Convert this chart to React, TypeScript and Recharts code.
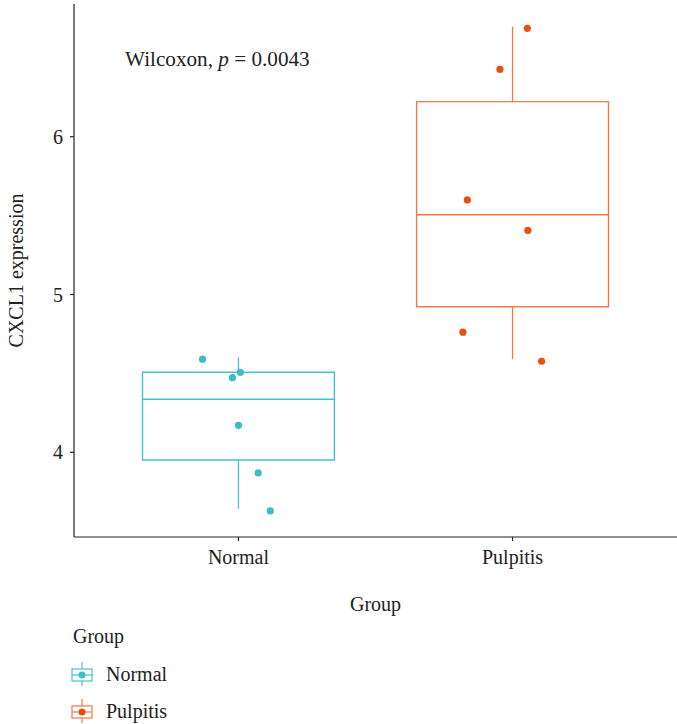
import React from "react";
import {
  ComposedChart,
  Scatter,
  XAxis,
  YAxis,
  ReferenceArea,
  ReferenceLine,
  Customized,
} from "recharts";

const groups = ["Normal", "Pulpitis"];
const groupPos = [1, 2];
const colorsPoint = ["#3BBDC8", "#E8500F"];
const colorsBox = ["#47C2CC", "#F07A4A"];

// box stats per group: [min, q1, median, q3, max]
const normalStats = [3.642, 3.951, 4.336, 4.507, 4.602];
const pulpitisStats = [4.59, 4.922, 5.505, 6.222, 6.698];

// jittered points
const normalOffsets = [-0.131, -0.022, 0.007, 0.0, 0.072, 0.116];
const normalValues = [4.59, 4.473, 4.507, 4.171, 3.869, 3.628];
const pulpitisOffsets = [0.054, -0.046, -0.165, 0.056, -0.181, 0.106];
const pulpitisValues = [6.687, 6.427, 5.599, 5.406, 4.761, 4.577];

const yTicks = [4, 5, 6];
const yDomain = [3.463, 6.841];
const xDomain = [0.4, 2.6];
const boxHalf = 0.35;

const FONT = "'Liberation Serif', 'DejaVu Serif', serif";
const FS = 20;

const normalPts = normalValues.map((v, i) => ({ x: groupPos[0] + normalOffsets[i], y: v }));
const pulpitisPts = pulpitisValues.map((v, i) => ({ x: groupPos[1] + pulpitisOffsets[i], y: v }));
const allStats = [normalStats, pulpitisStats];

const LegendIcon = ({ stroke, fill }: { stroke: string; fill: string }) => (
  <svg width={22} height={24} style={{ display: "block" }}>
    <line x1={11} y1={0} x2={11} y2={24} stroke={stroke} strokeWidth={1.2} />
    <rect x={1} y={7} width={20} height={12} fill="#fff" stroke={stroke} strokeWidth={1.2} />
    <line x1={1} y1={13} x2={21} y2={13} stroke={stroke} strokeWidth={1.2} />
    <circle cx={11} cy={13} r={3.5} fill={fill} />
  </svg>
);

export default function App() {
  return (
    <div style={{ position: "absolute", left: 0, top: 0, width: 677, height: 724, background: "#fff", fontFamily: FONT }}>
      <ComposedChart
        width={677}
        height={724}
        margin={{ top: 4, right: 0, left: 0, bottom: 147 }}
      >
        <XAxis
          type="number"
          dataKey="x"
          domain={xDomain}
          ticks={groupPos}
          allowDataOverflow
          tickFormatter={(v: number) => groups[groupPos.indexOf(v)] ?? ""}
          height={40}
          tickSize={4}
          tickMargin={9}
          stroke="#222"
          strokeWidth={1.2}
          tick={{ fill: "#222", fontSize: FS, fontFamily: FONT }}
          label={{ value: "Group", position: "bottom", offset: 20, fill: "#222", fontSize: FS, fontFamily: FONT }}
        />
        <YAxis
          type="number"
          dataKey="y"
          domain={yDomain}
          ticks={yTicks}
          allowDataOverflow
          width={74}
          tickSize={4}
          tickMargin={7}
          stroke="#222"
          strokeWidth={1.2}
          tick={{ fill: "#222", fontSize: FS, fontFamily: FONT }}
          label={{
            content: (props: any) => {
              const vb = props.viewBox || {};
              const cx = (vb.x ?? 0) + 16;
              const cy = (vb.y ?? 0) + (vb.height ?? 0) / 2;
              return (
                <text
                  x={cx}
                  y={cy}
                  transform={`rotate(-90, ${cx}, ${cy})`}
                  textAnchor="middle"
                  dominantBaseline="central"
                  fill="#222"
                  fontSize={FS}
                  fontFamily={FONT}
                >
                  CXCL1 expression
                </text>
              );
            },
          }}
        />
        {allStats.map((s, i) => (
          <ReferenceLine
            key={`wu${i}`}
            segment={[{ x: groupPos[i], y: s[3] }, { x: groupPos[i], y: s[4] }]}
            stroke={colorsBox[i]}
            strokeWidth={1.3}
            ifOverflow="visible"
          />
        ))}
        {allStats.map((s, i) => (
          <ReferenceLine
            key={`wl${i}`}
            segment={[{ x: groupPos[i], y: s[0] }, { x: groupPos[i], y: s[1] }]}
            stroke={colorsBox[i]}
            strokeWidth={1.3}
            ifOverflow="visible"
          />
        ))}
        {allStats.map((s, i) => (
          <ReferenceArea
            key={`box${i}`}
            x1={groupPos[i] - boxHalf}
            x2={groupPos[i] + boxHalf}
            y1={s[1]}
            y2={s[3]}
            fill="none"
            fillOpacity={0}
            stroke={colorsBox[i]}
            strokeWidth={1.4}
            ifOverflow="visible"
          />
        ))}
        {allStats.map((s, i) => (
          <ReferenceLine
            key={`med${i}`}
            segment={[{ x: groupPos[i] - boxHalf, y: s[2] }, { x: groupPos[i] + boxHalf, y: s[2] }]}
            stroke={colorsBox[i]}
            strokeWidth={1.4}
            ifOverflow="visible"
          />
        ))}
        <Scatter
          name="Normal"
          data={normalPts}
          fill={colorsPoint[0]}
          isAnimationActive={false}
          shape={(p: any) => <circle cx={p.cx} cy={p.cy} r={3.6} fill={colorsPoint[0]} />}
        />
        <Scatter
          name="Pulpitis"
          data={pulpitisPts}
          fill={colorsPoint[1]}
          isAnimationActive={false}
          shape={(p: any) => <circle cx={p.cx} cy={p.cy} r={3.6} fill={colorsPoint[1]} />}
        />
        <Customized
          component={() => (
            <text x={125} y={66} fill="#222" fontSize={21.2} fontFamily={FONT}>
              Wilcoxon,{" "}
              <tspan fontStyle="italic">p</tspan> = 0.0043
            </text>
          )}
        />
      </ComposedChart>
      <div style={{ position: "absolute", left: 73, top: 626, color: "#222", fontSize: FS, lineHeight: "20px" }}>
        Group
      </div>
      {groups.map((g, i) => (
        <div
          key={g}
          style={{ position: "absolute", left: 71, top: 662 + i * 37, display: "flex", alignItems: "center", color: "#222", fontSize: FS }}
        >
          <LegendIcon stroke={colorsBox[i]} fill={colorsPoint[i]} />
          <span style={{ marginLeft: 13 }}>{g}</span>
        </div>
      ))}
    </div>
  );
}
